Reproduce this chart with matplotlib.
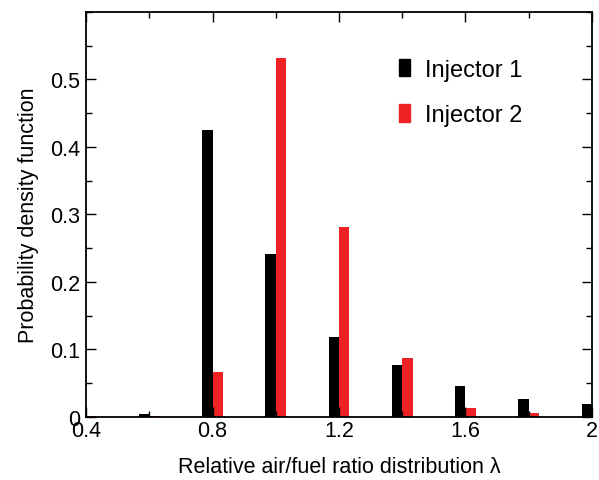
import numpy as np
import matplotlib
matplotlib.use('Agg')
import matplotlib.pyplot as plt
from matplotlib.patches import Patch
from matplotlib.ticker import MultipleLocator

# lambda classes and pdf values
lam = [0.4, 0.6, 0.8, 1.0, 1.2, 1.4, 1.6, 1.8, 2.0]
inj1 = [0.0, 0.005, 0.425, 0.241, 0.118, 0.077, 0.046, 0.027, 0.019]
inj2 = [0.002, 0.002, 0.066, 0.532, 0.281, 0.088, 0.014, 0.006, 0.0]

plt.rcParams['font.family'] = ['Liberation Sans', 'DejaVu Sans']

fig = plt.figure(figsize=(5.99, 4.81), dpi=100)
ax = fig.add_axes([0.1436, 0.131, 0.8447, 0.842])

# black bar sits left of each lambda value, red bar right of it
w = 0.033
x = np.array(lam)
ax.bar(x - w, inj1, width=w, align='edge', color='black', linewidth=0)
ax.bar(x, inj2, width=w, align='edge', color='#ee2224', linewidth=0)

ax.set_xlim(0.4, 2.0)
ax.set_ylim(0, 0.6)
ax.xaxis.set_minor_locator(MultipleLocator(0.2))
ax.yaxis.set_minor_locator(MultipleLocator(0.05))
ax.set_xticks([0.4, 0.8, 1.2, 1.6, 2.0])
ax.set_xticklabels(['0.4', '0.8', '1.2', '1.6', '2'])
ax.set_yticks([0, 0.1, 0.2, 0.3, 0.4, 0.5])
ax.set_yticklabels(['0', '0.1', '0.2', '0.3', '0.4', '0.5'])
ax.tick_params(which='both', direction='in', top=True, right=True, labelsize=15.5)
ax.tick_params(which='major', length=7, width=1)
ax.tick_params(which='minor', length=4, width=1)
ax.tick_params(axis='x', pad=2)
ax.tick_params(axis='y', pad=4)
for s in ax.spines.values():
    s.set_linewidth(1.3)

ax.set_xlabel('Relative air/fuel ratio distribution λ', fontsize=15.5, labelpad=11)
ax.set_ylabel('Probability density function', fontsize=15.5, labelpad=8)

handles = [Patch(color='black'), Patch(color='#ee2224')]
ax.legend(handles, ['Injector 1', 'Injector 2'], loc='upper left',
          bbox_to_anchor=(0.619, 0.885), frameon=False, fontsize=17,
          handlelength=0.47, handleheight=0.76, handletextpad=0.63,
          labelspacing=1.0, borderpad=0, borderaxespad=0)

fig.savefig('out.png', dpi=100)
